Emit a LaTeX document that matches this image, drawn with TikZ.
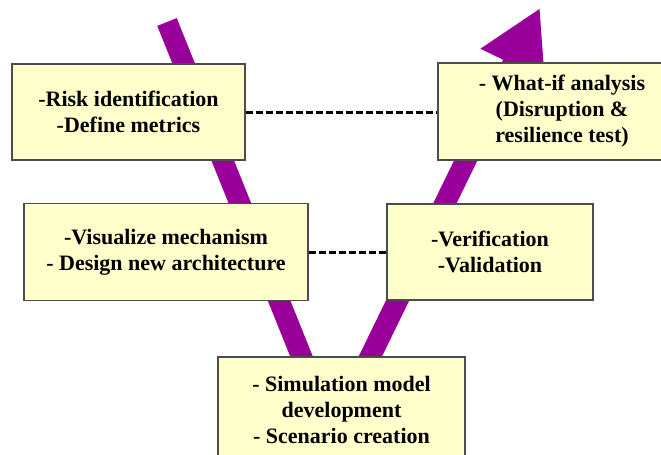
\documentclass[tikz,border=0pt]{standalone}
\usepackage{fontspec}
\setmainfont{Liberation Serif}
\usetikzlibrary{positioning}
\usetikzlibrary{arrows.meta}
\definecolor{leg}{RGB}{153,0,153}
\definecolor{boxfill}{RGB}{255,255,204}

\begin{document}
\begin{tikzpicture}[x=0.75pt,y=-0.75pt,
    box/.style={draw=black!70, line width=0.9pt, fill=boxfill, align=center,
                inner sep=0pt, font=\fontsize{16.5}{19.5}\selectfont\bfseries},
    link/.style={line width=2.25pt, dash pattern=on 5.25pt off 2.25pt},
    vleg/.style={draw=leg, line width=15.75pt, line cap=butt}]
    \useasboundingbox (0,0) rectangle (661,454);

    \coordinate (start) at (167,22);
    \coordinate (down)  at (315,390);
    \coordinate (up)    at (354,390);
    \coordinate (tip)   at (540,8);

    \draw[vleg] (start) -- (down);
    \draw[vleg, -{Triangle[length=47pt,width=50pt]}] (up) -- (tip);

    \node (risk)   [box, minimum width=174.75pt, minimum height=72pt]    at (128.5,112)
      {-Risk identification\\-Define metrics};
    \node (whatif) [box, minimum width=186pt, minimum height=72.75pt]    at (562,111.5)
      {- What-if analysis\\(Disruption \&\\resilience test)};
    \node (visual) [box, minimum width=213pt, minimum height=72.75pt]    at (166,252)
      {-Visualize mechanism\\- Design new architecture};
    \node (verif)  [box, minimum width=154.5pt, minimum height=72pt]     at (490,252)
      {-Verification\\-Validation};
    \node (simul)  [box, minimum width=185.25pt, minimum height=78.75pt] at (341.5,409.5)
      {- Simulation model\\development\\- Scenario creation};

    \draw[link] (risk.east) -- (risk.east -| whatif.west);
    \draw[link] (visual.east) -- (verif.west);

  \end{tikzpicture}
\end{document}
